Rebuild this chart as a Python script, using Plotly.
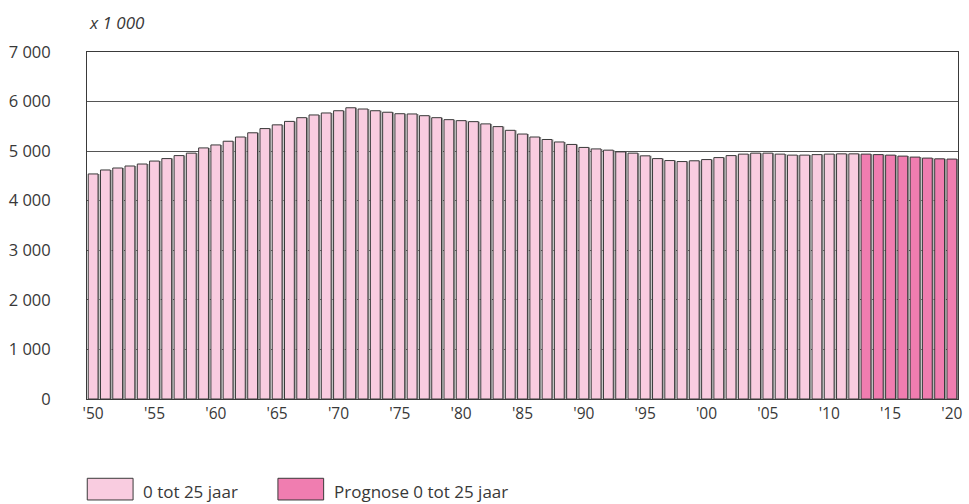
import plotly.graph_objects as go

years = list(range(1950, 2021))
values = [
    4540, 4620, 4660, 4700, 4740, 4800, 4850, 4910, 4960, 5065,
    5125, 5200, 5285, 5370, 5455, 5530, 5600, 5675, 5730, 5770,
    5815, 5875, 5850, 5815, 5785, 5755, 5750, 5715, 5675, 5635,
    5615, 5595, 5550, 5495, 5420, 5345, 5285, 5235, 5185, 5135,
    5075, 5045, 5020, 4985, 4960, 4905, 4850, 4810, 4790, 4805,
    4830, 4870, 4910, 4940, 4960, 4960, 4940, 4920, 4920, 4930,
    4940, 4945, 4945, 4940, 4930, 4920, 4900, 4880, 4860, 4845,
    4840,
]
prognosis_start = 2013
hist_years = [y for y in years if y < prognosis_start]
hist_values = [v for y, v in zip(years, values) if y < prognosis_start]
prog_years = [y for y in years if y >= prognosis_start]
prog_values = [v for y, v in zip(years, values) if y >= prognosis_start]

series_names = ["0 tot 25 jaar", "Prognose 0 tot 25 jaar"]
x_tickvals = list(range(1950, 2021, 5))
x_ticktext = ["'50", "'55", "'60", "'65", "'70", "'75", "'80", "'85", "'90",
              "'95", "'00", "'05", "'10", "'15", "'20"]
y_tickvals = [0, 1000, 2000, 3000, 4000, 5000, 6000, 7000]
y_ticktext = ["0", "1 000", "2 000", "3 000", "4 000", "5 000", "6 000", "7 000"]

LIGHT = "#F9CCE0"
DARK = "#F07DB0"
OUTLINE = "#3a3a3a"
TXT = "#383838"
FONT = "Open Sans"

fig = go.Figure()
# shadow
fig.add_trace(go.Bar(x=years, y=values, width=0.8, offset=-0.4 + 0.12,
                     marker=dict(color="#9a9a9a", line=dict(width=0)),
                     showlegend=False, hoverinfo="skip"))
fig.add_trace(go.Bar(x=hist_years, y=hist_values, width=0.8, offset=-0.4,
                     name=series_names[0],
                     marker=dict(color=LIGHT, line=dict(color=OUTLINE, width=1)),
                     showlegend=False))
fig.add_trace(go.Bar(x=prog_years, y=prog_values, width=0.8, offset=-0.4,
                     name=series_names[1],
                     marker=dict(color=DARK, line=dict(color=OUTLINE, width=1)),
                     showlegend=False))

fig.update_layout(
    width=969, height=504,
    margin=dict(l=87, r=6, t=52, b=105),
    paper_bgcolor="white", plot_bgcolor="white",
    barmode="overlay",
    font=dict(family=FONT, size=15, color=TXT),
    xaxis=dict(range=[1949.5, 2020.5], tickvals=x_tickvals, ticktext=x_ticktext,
               showgrid=False, showline=True, mirror=True, linecolor=OUTLINE,
               linewidth=1, ticks="", zeroline=False,
               tickfont=dict(family=FONT, size=15.5, color=TXT)),
    yaxis=dict(range=[0, 7000], tickvals=y_tickvals, ticktext=y_ticktext,
               showgrid=True, gridcolor="#555555", gridwidth=1,
               showline=True, mirror=True, linecolor=OUTLINE, linewidth=1,
               ticks="", zeroline=False, ticklabelstandoff=32,
               tickfont=dict(family=FONT, size=16.5, color=TXT)),
    shapes=[
        dict(type="rect", xref="paper", yref="paper",
             x0=0.0003, x1=0.0529, y0=-0.291, y1=-0.2285,
             fillcolor=LIGHT, line=dict(color=OUTLINE, width=1)),
        dict(type="rect", xref="paper", yref="paper",
             x0=0.2192, x1=0.2717, y0=-0.291, y1=-0.2285,
             fillcolor=DARK, line=dict(color=OUTLINE, width=1)),
    ],
    annotations=[
        dict(text="<i>x 1 000</i>", xref="paper", yref="paper", x=0.0, y=1.0,
             xanchor="left", yanchor="bottom", yshift=16, showarrow=False,
             font=dict(family=FONT, size=17, color=TXT)),
        dict(text=series_names[0], xref="paper", yref="paper", x=0.0624, y=-0.268,
             xanchor="left", yanchor="middle", showarrow=False,
             font=dict(family=FONT, size=17, color=TXT)),
        dict(text=series_names[1], xref="paper", yref="paper", x=0.2808, y=-0.268,
             xanchor="left", yanchor="middle", showarrow=False,
             font=dict(family=FONT, size=17, color=TXT)),
    ],
)

fig.write_html("out.html", config={"displayModeBar": False},
               post_script="document.body.style.margin='0';document.body.style.overflow='hidden';")
